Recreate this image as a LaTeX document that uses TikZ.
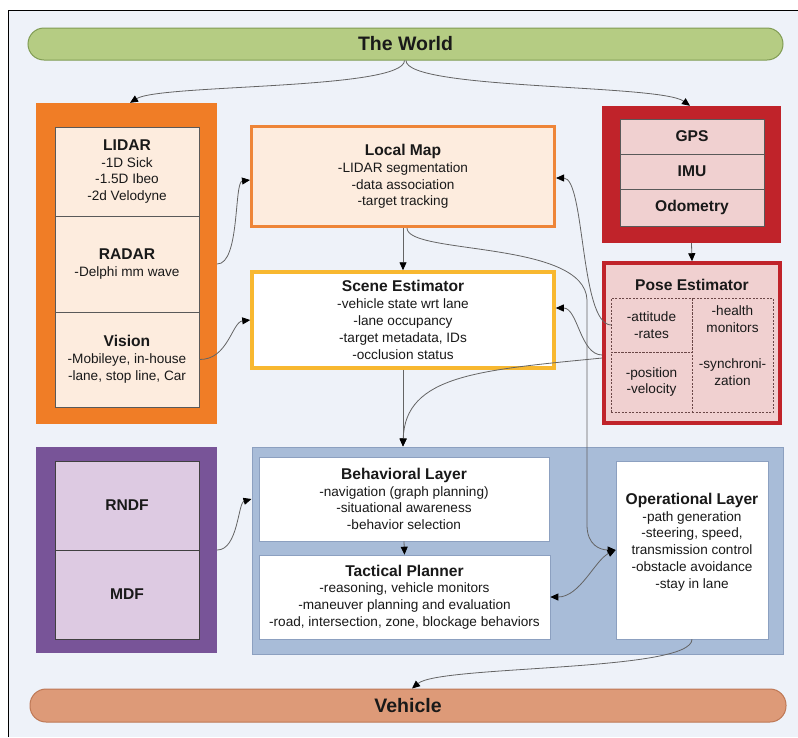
\documentclass[tikz,border=0pt]{standalone}
\usepackage{fontspec}
\setmainfont{Liberation Sans}
\usepackage{xcolor}
\usepackage{tikz}
\usetikzlibrary{arrows.meta}

\definecolor{bgcol}{RGB}{238,242,249}
\definecolor{worldgreen}{RGB}{181,204,131}
\definecolor{worldedge}{RGB}{128,156,84}
\definecolor{sensorange}{RGB}{240,125,38}
\definecolor{cream}{RGB}{253,236,222}
\definecolor{mapedge}{RGB}{238,133,56}
\definecolor{scenegold}{RGB}{248,184,48}
\definecolor{gpsred}{RGB}{192,35,42}
\definecolor{pinkfill}{RGB}{240,208,208}
\definecolor{mdfpurple}{RGB}{120,84,152}
\definecolor{lilac}{RGB}{221,202,226}
\definecolor{layerblue}{RGB}{168,188,216}
\definecolor{layeredge}{RGB}{140,160,192}
\definecolor{vehsalmon}{RGB}{221,154,120}
\definecolor{vehedge}{RGB}{190,120,85}
\definecolor{wirecol}{RGB}{100,100,100}
\definecolor{inkcol}{RGB}{25,25,25}

\newcommand{\diagtitle}{\fontsize{15.6}{18}\selectfont\bfseries}
\newcommand{\diagbody}{\fontsize{13.6}{16.8}\selectfont}

\begin{document}
\begin{tikzpicture}[x=1pt, y=-1pt, text=inkcol,
    >={Triangle[length=8pt,width=7pt,color=black]},
    pill/.style={rounded corners=16pt, line width=1pt, inner sep=0pt,
        font=\fontsize{19.5}{20}\selectfont\bfseries},
    cell/.style={draw=gray!70!black, line width=0.6pt, inner sep=0pt,
        align=center, font=\diagbody},
    dcell/.style={draw=gray!80!red!70!black, dash pattern=on 2pt off 1.5pt,
        line width=0.6pt, inner sep=0pt, align=center, font=\diagbody},
    wire/.style={draw=wirecol, line width=0.8pt, ->}]
    \useasboundingbox (0,0) rectangle (798,737);
    \fill[bgcol] (8,10) rectangle (798,737);
    \draw[line width=1pt] (8,737) -- (8,10) -- (798,10);

    % World and Vehicle
    \node[pill, fill=worldgreen, draw=worldedge, minimum width=755pt, minimum height=32pt] (world) at (405.5,44) {The World};
    \node[pill, fill=vehsalmon, draw=vehedge, minimum width=756pt, minimum height=33pt] (vehicle) at (408,705.5) {Vehicle};

    % Sensors
    \node[fill=sensorange, minimum width=181pt, minimum height=321pt, inner sep=0pt] (sensors) at (126.5,263.5) {};
    \node[cell, fill=cream, minimum width=144pt, minimum height=89pt] (lidar) at (127,171.5) {{\diagtitle LIDAR}\\-1D Sick\\-1.5D Ibeo\\-2d Velodyne};
    \node[cell, fill=cream, minimum width=144pt, minimum height=96pt] (radar) at (127,264) {{\diagtitle RADAR}\\-Delphi mm wave};
    \node[cell, fill=cream, minimum width=144pt, minimum height=95pt] (vision) at (127,359.5) {{\diagtitle Vision}\\-Mobileye, in-house\\-lane, stop line, Car};

    % Local map and scene
    \node[cell, draw=mapedge, line width=3pt, fill=cream, minimum width=303pt, minimum height=100pt] (localmap) at (403,176.5) {{\diagtitle Local Map}\\-LIDAR segmentation\\-data association\\-target tracking};
    \node[cell, draw=scenegold, line width=3.5pt, fill=white, minimum width=302pt, minimum height=96pt] (scene) at (403,320) {{\diagtitle Scene Estimator}\\-vehicle state wrt lane\\-lane occupancy\\-target metadata, IDs\\-occlusion status};

    % GPS, IMU, Odometry
    \node[fill=gpsred, minimum width=179pt, minimum height=137pt, inner sep=0pt] (gpsbox) at (691.5,174.5) {};
    \node[cell, fill=pinkfill, minimum width=144pt, minimum height=35pt, font=\diagtitle] (gps) at (692,136.5) {GPS};
    \node[cell, fill=pinkfill, minimum width=144pt, minimum height=35pt, font=\diagtitle] (imu) at (692,171.5) {IMU};
    \node[cell, fill=pinkfill, minimum width=144pt, minimum height=37pt, font=\diagtitle] (odo) at (692,207.5) {Odometry};

    % Pose estimator
    \node[draw=gpsred, line width=3.5pt, fill=pinkfill, minimum width=176pt, minimum height=160pt, inner sep=0pt] (pose) at (692,343) {};
    \node[font=\diagtitle, inner sep=0pt] (posetitle) at (692,285) {Pose Estimator};
    \node[dcell, minimum width=81pt, minimum height=54pt] (att) at (651.5,325) {-attitude\\-rates};
    \node[dcell, minimum width=81pt, minimum height=60pt] (pos) at (651.5,382) {-position\\-velocity};
    \node[dcell, minimum width=81pt, minimum height=114pt] (side) at (732.5,355) {};
    \node[align=center, font=\diagbody, inner sep=0pt] (health) at (732.5,319.5) {-health\\monitors};
    \node[align=center, font=\diagbody, inner sep=0pt] (sync) at (732.5,372) {-synchroni-\\zation};

    % RNDF and MDF
    \node[fill=mdfpurple, minimum width=181pt, minimum height=206pt, inner sep=0pt] (mission) at (126.5,550) {};
    \node[cell, draw=black!75, fill=lilac, minimum width=144pt, minimum height=89pt, font=\diagtitle] (rndf) at (127,505.5) {RNDF};
    \node[cell, draw=black!75, fill=lilac, minimum width=144pt, minimum height=89pt, font=\diagtitle] (mdf) at (127,594.5) {MDF};

    % Planning layers
    \node[draw=layeredge, line width=1pt, fill=layerblue, minimum width=531pt, minimum height=207pt, inner sep=0pt] (layers) at (517.5,550.5) {};
    \node[cell, draw=layeredge, fill=white, minimum width=290pt, minimum height=84pt] (behav) at (404,499) {{\diagtitle Behavioral Layer}\\-navigation (graph planning)\\-situational awareness\\-behavior selection};
    \node[cell, draw=layeredge, fill=white, minimum width=291pt, minimum height=84pt] (tact) at (404.5,597) {{\diagtitle Tactical Planner}\\-reasoning, vehicle monitors\\-maneuver planning and evaluation\\-road, intersection, zone, blockage behaviors};
    \node[cell, draw=layeredge, fill=white, minimum width=152pt, minimum height=178pt] (oper) at (692,550) {};
    \node[align=center, font=\diagbody, inner sep=0pt] (opertext) at (692,542) {{\diagtitle Operational Layer}\\-path generation\\-steering, speed,\\transmission control\\-obstacle avoidance\\-stay in lane};

    % Connectors
    \draw[wire] ([xshift=-1pt]world.south) .. controls (404,90) and (160,84) .. ([xshift=3.5pt]sensors.north);
    \draw[wire] ([xshift=0.5pt]world.south) .. controls (406,90) and (660,84) .. ([xshift=-1.5pt]gpsbox.north);
    \draw[wire] (sensors.east |- radar.center) .. controls (240,264) and (234,182) .. ([yshift=-3.5pt]localmap.west);
    \draw[wire] (vision.east) .. controls (228,360) and (232,322) .. (scene.west);
    \draw[wire] (localmap.south) -- (scene.north);
    \draw[wire] (att.west) .. controls (580,323) and (585,178) .. ([yshift=-1.5pt]localmap.east);
    \draw[wire] ([yshift=-12pt]pose.west) .. controls (580,355) and (578,308) .. ([yshift=12pt]scene.east);
    \draw[wire] ([yshift=-15pt]pose.west) .. controls (480,370) and (405,375) .. (scene.south |- layers.north);
    \draw[wire] (scene.south) -- (scene.south |- layers.north);
    \draw[wire] ([xshift=4pt]localmap.south) .. controls (407,255) and (585,240) .. (587,300) -- (587,525) .. controls (587,545) and (600,550) .. (oper.west);
    \draw[wire, <->] (tact.east) .. controls (580,597) and (595,560) .. (oper.west);
    \draw[wire] (mission.east) .. controls (238,550) and (238,503) .. (layers.west |- behav.center);
    \draw[wire] (behav.south) -- (tact.north);
    \draw[wire] (gpsbox.south) -- (pose.north);
    \draw[wire] (oper.south) .. controls (692,672) and (440,665) .. ([xshift=4pt]vehicle.north);
\end{tikzpicture}
\end{document}
